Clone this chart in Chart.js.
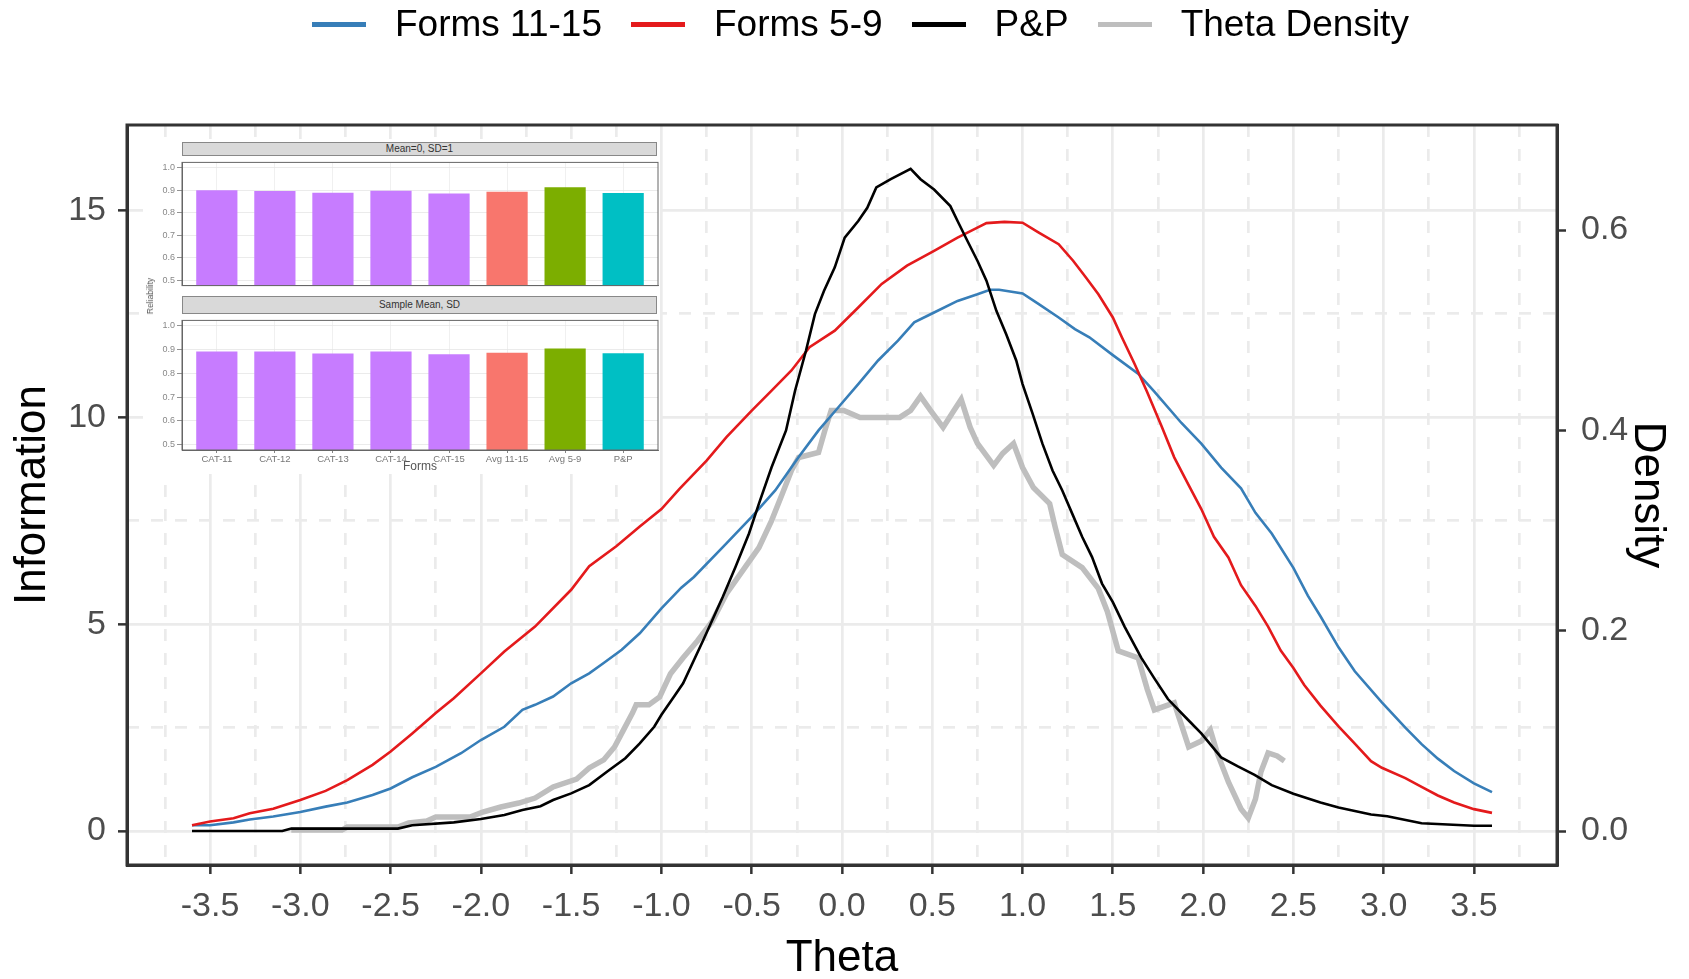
<!DOCTYPE html>
<html>
<head>
<meta charset="utf-8">
<script src="https://cdn.jsdelivr.net/npm/chart.js@4/dist/chart.umd.min.js"></script>
<style>
  body{margin:0;background:#fff;}
  #wrap{position:relative;width:1689px;height:979px;overflow:hidden;font-family:'Liberation Sans',Arial,sans-serif;}
  #wrap canvas{position:absolute;}
  #legend{position:absolute;left:312px;top:5px;height:38px;display:flex;align-items:center;font-size:37px;color:#000;white-space:nowrap;}
  #legend .sw{width:54px;height:5px;margin-right:29px;}
  #legend .lb{margin-right:29px;}
  #insetBg{position:absolute;left:143px;top:139px;width:517px;height:335px;background:#fff;}
  .strip{position:absolute;left:182px;width:475px;background:#d9d9d9;border:1px solid #888;
         font-size:10px;color:#333;text-align:center;box-sizing:border-box;}
  #relLab{position:absolute;left:150px;top:296px;transform:translate(-50%,-50%) rotate(-90deg);font-size:8.5px;color:#555;}
</style>
</head>
<body>
<div id="wrap">
  <canvas id="main" width="1689" height="979" style="left:0;top:0"></canvas>
  <div id="legend">
    <div class="sw" style="background:#377eb8"></div><div class="lb">Forms 11-15</div>
    <div class="sw" style="background:#e41a1c"></div><div class="lb">Forms 5-9</div>
    <div class="sw" style="background:#000"></div><div class="lb">P&amp;P</div>
    <div class="sw" style="background:#bebebe"></div><div class="lb" style="margin-right:0">Theta Density</div>
  </div>
  <div id="insetBg"></div>
  <div class="strip" style="top:142px;height:14px;line-height:12px">Mean=0, SD=1</div>
  <div class="strip" style="top:296px;height:18px;line-height:16px">Sample Mean, SD</div>
  <canvas id="facet1" width="517" height="138" style="left:143px;top:155px"></canvas>
  <canvas id="facet2" width="517" height="160" style="left:143px;top:313px"></canvas>
  <div id="relLab">Reliability</div>
</div>
<script>
/* ---------- data: information curves (Theta vs Information) ---------- */
const thetaF1115 = [-3.6,-3.5,-3.37,-3.28,-3.15,-3.0,-2.86,-2.74,-2.6,-2.5,-2.38,-2.25,-2.11,-2.0,-1.87,-1.77,-1.7,-1.6,-1.5,-1.4,-1.32,-1.22,-1.12,-1.0,-0.89,-0.82,-0.64,-0.5,-0.37,-0.24,-0.13,-0.02,0.09,0.2,0.31,0.4,0.51,0.64,0.75,0.82,0.87,1.0,1.09,1.2,1.29,1.37,1.5,1.64,1.73,1.88,1.99,2.1,2.21,2.29,2.38,2.5,2.58,2.65,2.75,2.84,2.99,3.12,3.21,3.3,3.39,3.5,3.6];
const infoF1115  = [0.14,0.14,0.21,0.28,0.35,0.46,0.59,0.69,0.87,1.03,1.3,1.55,1.88,2.2,2.52,2.93,3.05,3.25,3.57,3.81,4.06,4.38,4.78,5.38,5.88,6.14,6.95,7.59,8.23,9.04,9.68,10.24,10.8,11.37,11.85,12.29,12.53,12.81,12.97,13.08,13.08,12.99,12.73,12.41,12.13,11.93,11.5,11.05,10.62,9.86,9.36,8.78,8.28,7.69,7.19,6.36,5.69,5.19,4.44,3.86,3.11,2.5,2.1,1.75,1.45,1.15,0.94];

const thetaF59 = [-3.6,-3.5,-3.37,-3.28,-3.15,-3.0,-2.86,-2.74,-2.6,-2.5,-2.38,-2.25,-2.15,-2.0,-1.87,-1.7,-1.5,-1.4,-1.25,-1.12,-1.0,-0.9,-0.75,-0.64,-0.5,-0.39,-0.28,-0.18,-0.04,0.09,0.22,0.36,0.51,0.64,0.75,0.8,0.9,1.0,1.09,1.2,1.28,1.35,1.42,1.5,1.55,1.62,1.69,1.77,1.84,1.92,1.99,2.06,2.14,2.21,2.29,2.36,2.43,2.5,2.56,2.65,2.75,2.84,2.93,2.99,3.12,3.21,3.3,3.39,3.5,3.6];
const infoF59  = [0.14,0.23,0.31,0.43,0.54,0.75,0.97,1.23,1.6,1.92,2.36,2.85,3.21,3.81,4.34,4.94,5.83,6.4,6.88,7.36,7.78,8.27,8.95,9.52,10.16,10.64,11.13,11.69,12.09,12.65,13.22,13.66,14.02,14.34,14.58,14.69,14.72,14.7,14.46,14.18,13.78,13.38,12.97,12.41,11.93,11.29,10.61,9.78,9.03,8.36,7.78,7.11,6.61,5.94,5.44,4.94,4.36,3.94,3.53,3.03,2.53,2.11,1.69,1.53,1.28,1.07,0.86,0.69,0.53,0.44];

const thetaPP = [-3.6,-3.1,-3.05,-2.46,-2.38,-2.15,-2.0,-1.87,-1.77,-1.67,-1.6,-1.5,-1.4,-1.3,-1.2,-1.12,-1.04,-1.0,-0.93,-0.88,-0.77,-0.66,-0.59,-0.515,-0.46,-0.39,-0.31,-0.26,-0.2,-0.15,-0.1,-0.04,0.015,0.09,0.14,0.19,0.27,0.38,0.435,0.51,0.6,0.64,0.69,0.75,0.8,0.855,0.91,0.965,1.0,1.056,1.11,1.166,1.22,1.275,1.33,1.385,1.44,1.5,1.565,1.657,1.73,1.805,1.916,1.99,2.1,2.19,2.285,2.38,2.5,2.65,2.75,2.93,3.02,3.21,3.5,3.6];
const infoPP  = [0,0,0.06,0.06,0.14,0.21,0.29,0.39,0.51,0.6,0.75,0.91,1.11,1.44,1.76,2.12,2.52,2.81,3.25,3.57,4.6,5.66,6.38,7.19,7.91,8.79,9.68,10.64,11.6,12.49,13.05,13.62,14.34,14.74,15.06,15.55,15.75,16.0,15.75,15.5,15.1,14.74,14.3,13.78,13.3,12.57,12.0,11.37,10.8,10.08,9.36,8.71,8.23,7.67,7.11,6.62,5.98,5.53,4.94,4.19,3.69,3.19,2.69,2.36,1.78,1.57,1.36,1.11,0.9,0.69,0.57,0.4,0.36,0.19,0.13,0.13];

/* theta density, read on the right-hand axis */
const thetaDens = [-3.05,-2.77,-2.74,-2.46,-2.4,-2.3,-2.25,-2.06,-1.99,-1.89,-1.79,-1.7,-1.6,-1.47,-1.4,-1.32,-1.26,-1.21,-1.16,-1.14,-1.07,-1.01,-0.95,-0.88,-0.8,-0.72,-0.64,-0.55,-0.46,-0.39,-0.33,-0.28,-0.24,-0.13,-0.095,-0.06,0.01,0.1,0.32,0.38,0.435,0.49,0.56,0.62,0.66,0.71,0.75,0.84,0.89,0.95,1.0,1.06,1.15,1.18,1.22,1.33,1.42,1.47,1.53,1.64,1.69,1.73,1.84,1.92,1.99,2.04,2.08,2.14,2.21,2.25,2.29,2.32,2.36,2.41,2.45];
const densVals  = [0.001,0.001,0.004,0.004,0.008,0.010,0.014,0.014,0.019,0.024,0.028,0.033,0.044,0.052,0.063,0.071,0.084,0.101,0.118,0.126,0.126,0.134,0.157,0.173,0.190,0.209,0.237,0.260,0.283,0.310,0.337,0.360,0.373,0.378,0.400,0.420,0.420,0.413,0.413,0.420,0.434,0.420,0.403,0.420,0.431,0.403,0.387,0.365,0.377,0.387,0.363,0.343,0.327,0.304,0.276,0.263,0.242,0.219,0.180,0.173,0.142,0.121,0.128,0.084,0.090,0.101,0.077,0.049,0.022,0.013,0.032,0.059,0.078,0.075,0.070];

/* axis ticks */
const xMajor   = [-3.5,-3,-2.5,-2,-1.5,-1,-0.5,0,0.5,1,1.5,2,2.5,3,3.5];
const xMinor   = [-3.75,-3.25,-2.75,-2.25,-1.75,-1.25,-0.75,-0.25,0.25,0.75,1.25,1.75,2.25,2.75,3.25,3.75];
const yMajor   = [0,5,10,15];
const yMinor   = [2.5,7.5,12.5];
const densTicks= [0,0.2,0.4,0.6];

/* ---------- data: inset reliability bars ---------- */
const formLabels = ['CAT-11','CAT-12','CAT-13','CAT-14','CAT-15','Avg 11-15','Avg 5-9','P&P'];
const relStd     = [0.900,0.896,0.889,0.897,0.885,0.893,0.913,0.887];  // Mean=0, SD=1
const relSample  = [0.892,0.892,0.884,0.892,0.880,0.887,0.905,0.885];  // Sample Mean, SD
const barColors  = ['#c77cff','#c77cff','#c77cff','#c77cff','#c77cff','#f8766d','#7cae00','#00bfc4'];
const relTicks   = [0.5,0.55,0.6,0.65,0.7,0.75,0.8,0.85,0.9,0.95,1.0];

/* ---------- helpers ---------- */
const FONT = "'Liberation Sans', Arial, sans-serif";
const pts  = (xs,ys) => xs.map((x,i)=>({x, y:ys[i]}));
const setTicks = arr => s => { s.ticks = arr.map(v=>({value:v})); };
const isMajor = v => Math.abs(Math.round(v*10) - v*10) < 1e-6;

/* panel frame drawn round the chart area */
const frame = {
  id:'frame',
  afterDatasetsDraw(chart, args, o){
    const {ctx, chartArea:a} = chart;
    ctx.save();
    ctx.strokeStyle = o.color; ctx.lineWidth = o.width;
    ctx.strokeRect(a.left, a.top, a.right - a.left, a.bottom - a.top);
    ctx.restore();
  }
};

/* ---------- main chart ---------- */
const Y_MIN = -0.82, Y_MAX = 17.06, K = 0.6/14.52;   // info -> density
const tickFont  = {family:FONT, size:34};
const titleFont = {family:FONT, size:44, lineHeight:1.2};
const DASH = [12,12];

new Chart(document.getElementById('main'), {
  type:'line',
  data:{datasets:[
    {label:'P&P',           data:pts(thetaPP,infoPP),       borderColor:'#000',    borderWidth:2.6, yAxisID:'y'},
    {label:'Forms 5-9',     data:pts(thetaF59,infoF59),     borderColor:'#e41a1c', borderWidth:2.6, yAxisID:'y'},
    {label:'Forms 11-15',   data:pts(thetaF1115,infoF1115), borderColor:'#377eb8', borderWidth:2.6, yAxisID:'y'},
    {label:'Theta Density', data:pts(thetaDens,densVals),   borderColor:'#bebebe', borderWidth:5.5, yAxisID:'y2'}
  ]},
  options:{
    responsive:false, animation:false,
    elements:{point:{radius:0}, line:{tension:0}},
    layout:{padding:{top:125,left:0,right:0,bottom:0}},
    plugins:{legend:{display:false}, tooltip:{enabled:false}, frame:{color:'#333',width:3}},
    scales:{
      x:{type:'linear', position:'bottom', min:-3.96, max:3.96,
         afterBuildTicks:setTicks(xMajor),
         ticks:{font:tickFont, color:'#4d4d4d', padding:12, maxRotation:0, autoSkip:false, callback:v=>v.toFixed(1)},
         grid:{color:'#ebebeb', lineWidth:2.7, tickColor:'#333', tickLength:9, tickWidth:2.5},
         border:{color:'#333', width:3},
         title:{display:true, text:'Theta', color:'#000', font:{family:FONT,size:44,lineHeight:0.9}, padding:{top:0,bottom:0}},
         afterFit:s=>{s.height = 114;}},
      xm:{type:'linear', position:'top', min:-3.96, max:3.96,
         afterBuildTicks:setTicks(xMinor),
         ticks:{display:false},
         grid:{color:'#ebebeb', lineWidth:2.7, drawTicks:false},
         border:{display:false, dash:DASH},
         afterFit:s=>{s.height = 0;}},
      y:{type:'linear', position:'left', min:Y_MIN, max:Y_MAX,
         afterBuildTicks:setTicks(yMajor),
         ticks:{font:tickFont, color:'#4d4d4d', padding:12, callback:v=>String(v)},
         grid:{color:'#ebebeb', lineWidth:2.7, tickColor:'#333', tickLength:9, tickWidth:2.5},
         border:{color:'#333', width:3},
         title:{display:true, text:'Information', color:'#000', font:titleFont, padding:{top:6,bottom:0}},
         afterFit:s=>{s.width = 127;}},
      ym:{type:'linear', position:'left', min:Y_MIN, max:Y_MAX,
         afterBuildTicks:setTicks(yMinor),
         ticks:{display:false},
         grid:{color:'#ebebeb', lineWidth:2.7, drawTicks:false},
         border:{display:false, dash:DASH},
         afterFit:s=>{s.width = 0;}},
      y2:{type:'linear', position:'right', min:Y_MIN*K, max:Y_MAX*K,
         afterBuildTicks:setTicks(densTicks),
         ticks:{font:tickFont, color:'#4d4d4d', padding:15, callback:v=>v.toFixed(1)},
         grid:{drawOnChartArea:false, tickColor:'#333', tickLength:9, tickWidth:2.5},
         border:{color:'#333', width:3},
         title:{display:true, text:'Density', color:'#000', font:titleFont, padding:{top:15,bottom:0}},
         afterFit:s=>{s.width = 132;}}
    }
  },
  plugins:[frame]
});

/* ---------- inset: two facets of reliability bars ---------- */
function facet(id, vals, bottom){
  return new Chart(document.getElementById(id), {
    type:'bar',
    data:{datasets:[{data:pts(vals.map((_,i)=>i+1), vals), backgroundColor:barColors,
                     barPercentage:0.71, categoryPercentage:1}]},
    options:{
      responsive:false, animation:false,
      layout:{padding:{top:0,right:2,left:0,bottom:0}},
      plugins:{legend:{display:false}, tooltip:{enabled:false}, frame:{color:'#666',width:1}},
      scales:{
        x:{type:'linear', min:0.4, max:8.6, offset:false,
           afterBuildTicks:setTicks(formLabels.map((_,i)=>i+1)),
           ticks:{display:bottom, font:{family:FONT,size:9.5}, color:'#777', padding:1, maxRotation:0, autoSkip:false,
                  callback:v=>formLabels[v-1]},
           grid:{offset:false, color:'#ececec', lineWidth:0.8, drawTicks:bottom, tickLength:3, tickColor:'#666'},
           border:{color:'#666', width:1},
           title:{display:bottom, text:'Forms', color:'#555', font:{family:FONT,size:12,lineHeight:1}, padding:{top:0,bottom:0}},
           afterFit:s=>{s.height = bottom ? 23 : 0;}},
        y:{min:0.477, max:1.023,
           afterBuildTicks:setTicks(relTicks),
           ticks:{font:{family:FONT,size:9}, color:'#888', padding:2,
                  callback:v=>isMajor(v) ? v.toFixed(1) : ''},
           grid:{color:c=>isMajor(c.tick.value) ? '#e6e6e6' : '#f4f4f4', lineWidth:0.8,
                 tickLength:5, tickColor:c=>isMajor(c.tick.value) ? '#777' : 'rgba(0,0,0,0)'},
           border:{color:'#666', width:1},
           afterFit:s=>{s.width = 39;}}
      }
    },
    plugins:[frame]
  });
}
facet('facet1', relStd, false);
facet('facet2', relSample, true);
</script>
</body>
</html>
